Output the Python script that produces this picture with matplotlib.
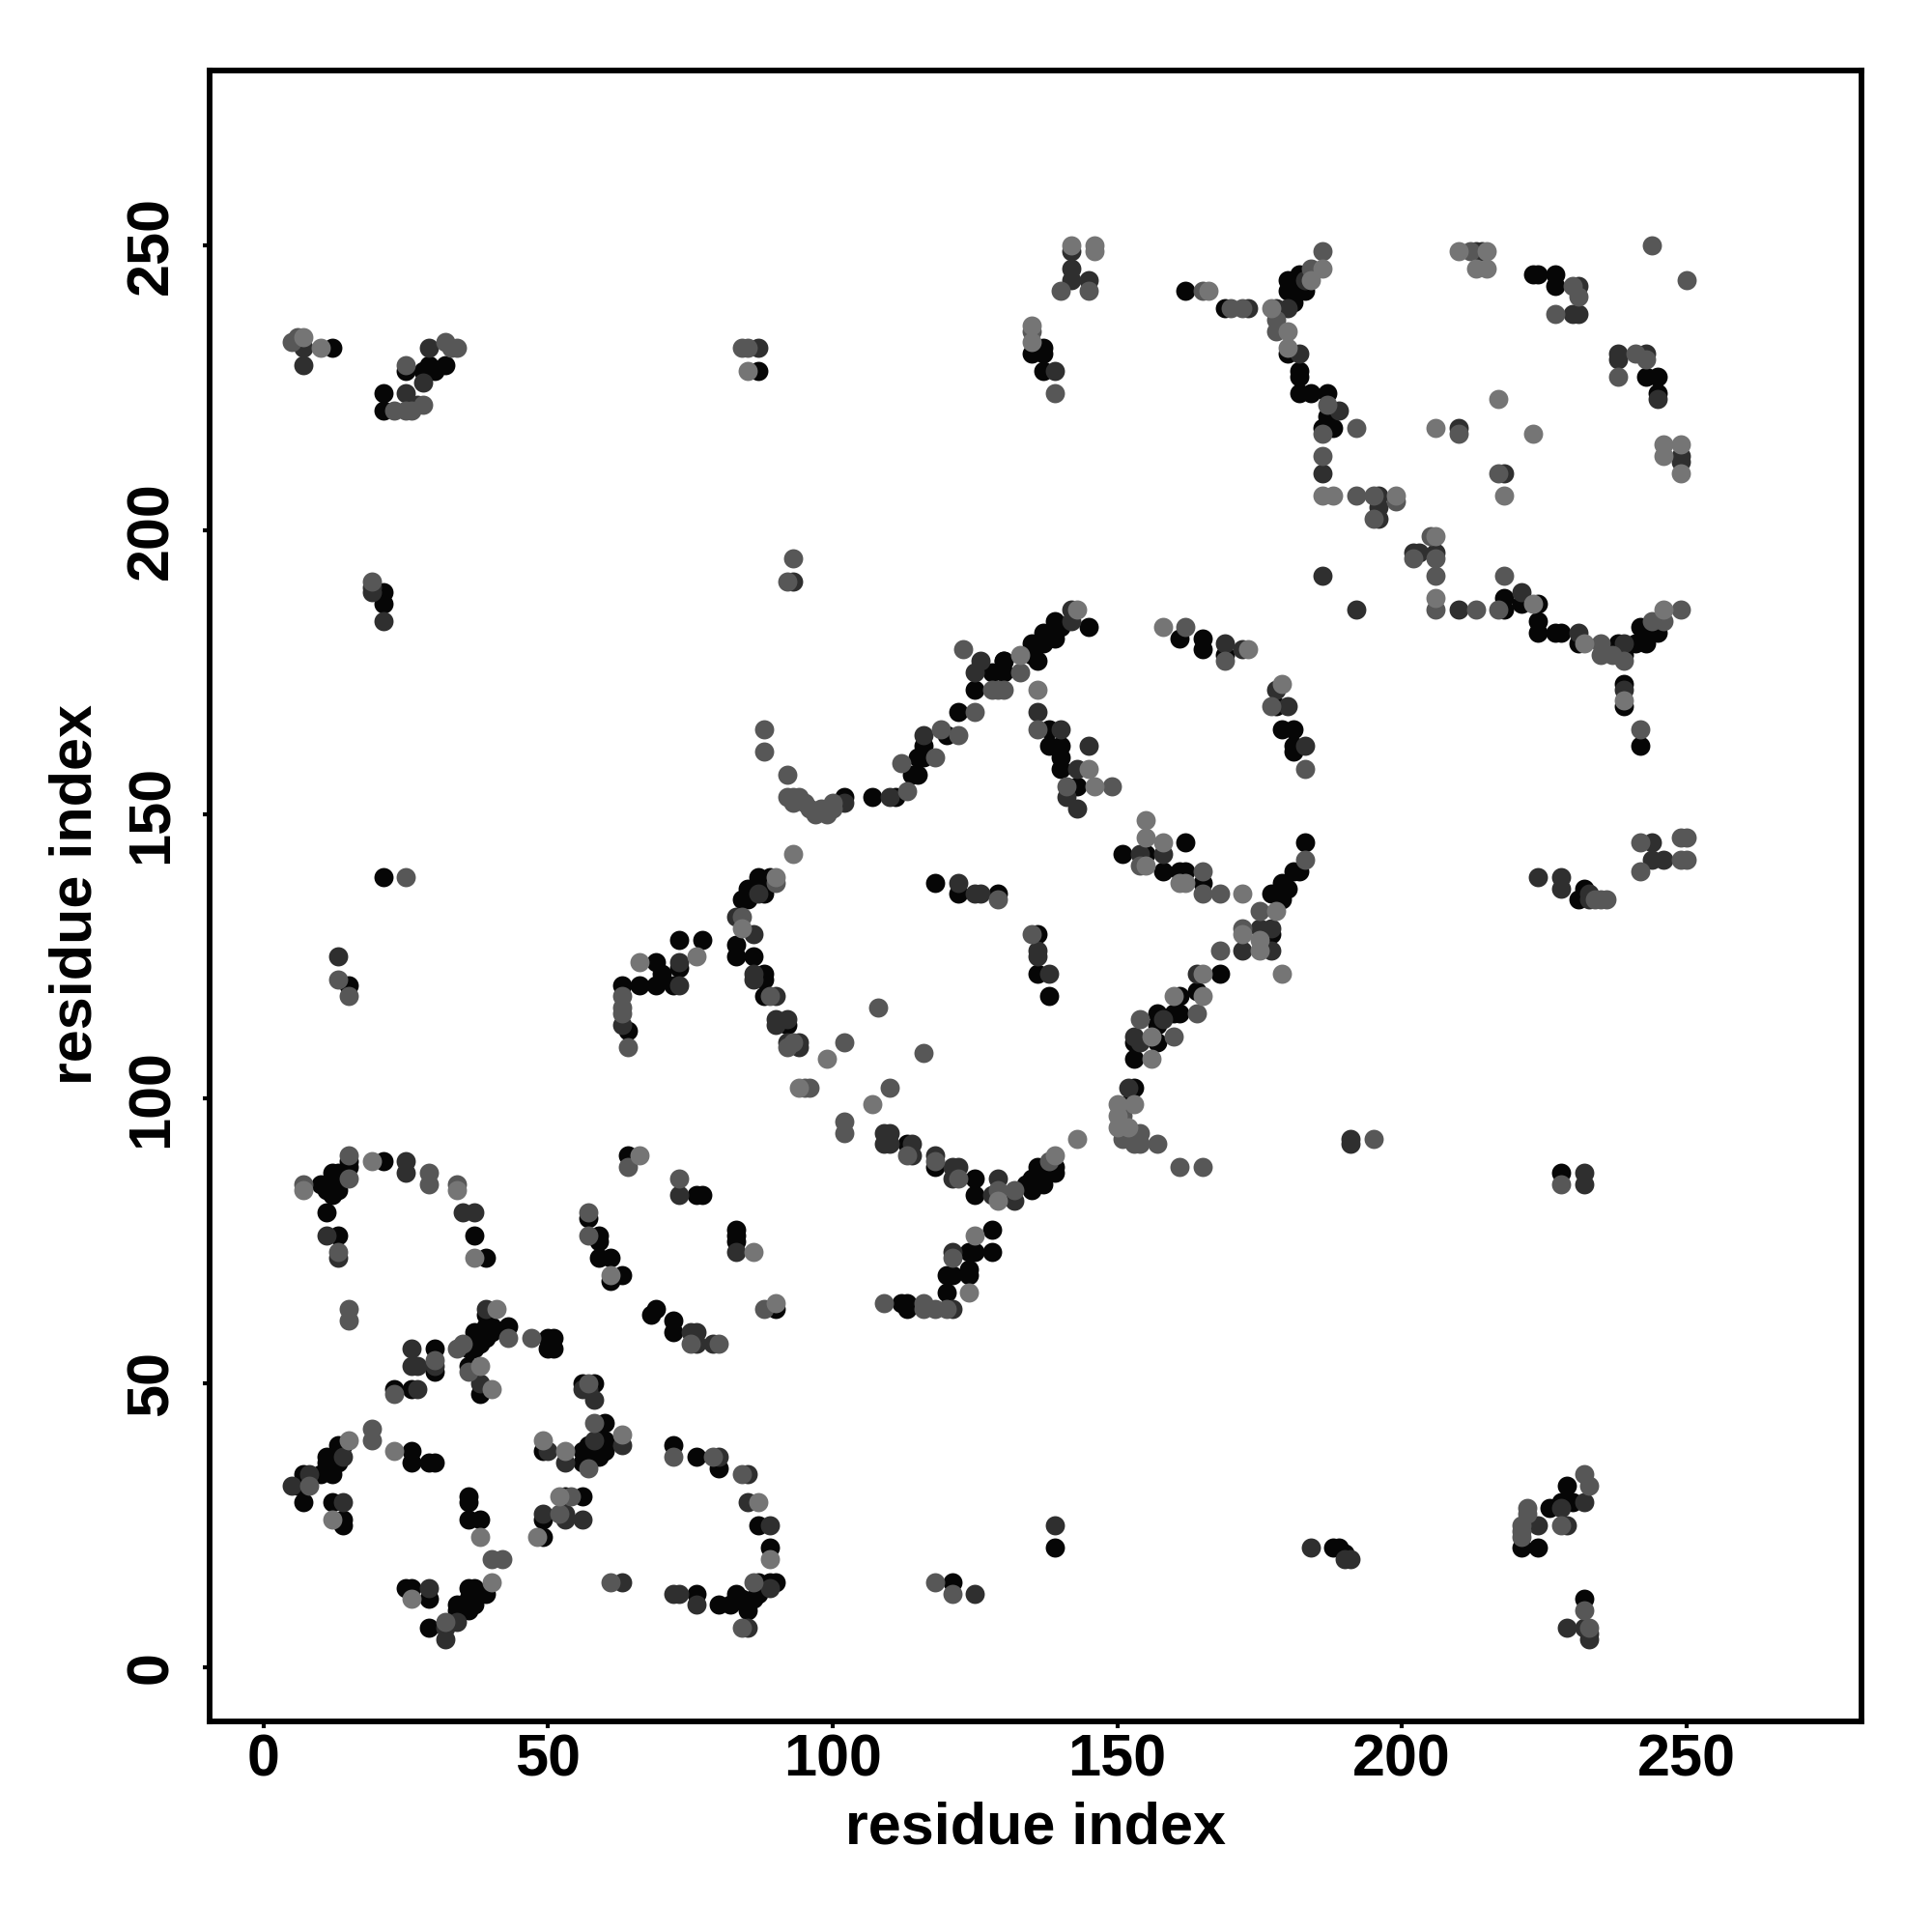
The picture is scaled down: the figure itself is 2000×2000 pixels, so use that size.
import matplotlib
matplotlib.use("Agg")
import matplotlib.pyplot as plt

x_ticks = [0, 50, 100, 150, 200, 250]
y_ticks = [0, 50, 100, 150, 200, 250]
axis_label = "residue index"

black_points = [
(25,14),(26,14),(29,12),(29,7),(34,11),(34,10),(36,14),(36,10),(37,11),(37,14),(39,13),(35,11),(36,12),(38,13),
(36,30),(36,29),(36,26),(38,26),(6,32),(7,29),(7,34),(10,34),(12,34),(11,37),(11,36),(13,39),(13,36),(14,39),(12,35),
(26,38),(26,36),(29,36),(30,36),(12,29),(14,26),(14,25),(11,80),(13,76),(37,76),(39,72),(76,83),(77,83),(83,77),(83,76),
(11,84),(10,85),(12,83),(13,84),(12,85),(12,87),(13,87),(14,87),(15,88),(15,89),(21,89),
(30,56),(30,52),(23,49),(26,49),(37,59),(38,57),(38,59),(39,58),(39,60),(39,62),(40,59),(40,60),(43,60),(36,57),(37,56),(36,53),(38,48),(36,56),
(50,58),(50,56),(51,58),(51,56),(57,79),(59,76),(59,75),(59,72),(61,72),(61,68),(63,69),(69,63),(68,62),(72,61),(72,59),(90,63),
(72,39),(76,37),(80,35),(87,25),(89,21),(90,15),(89,15),(87,15),(87,13),(83,13),(85,11),(80,11),(82,11),(85,10),(76,13),(84,12),(86,12),(88,14),
(49,38),(56,38),(58,37),(60,43),(60,40),(60,38),(59,37),(56,36),(57,36),(56,50),(58,50),(53,30),(56,30),(49,26),(49,23),(58,38),(59,40),(57,39),
(89,139),(87,139),(85,137),(88,136),(85,135),(84,135),(83,125),(83,127),(86,125),(88,122),(88,121),(88,118),(92,113),
(113,92),(118,88),(125,86),(125,83),(135,84),(135,86),(136,88),(137,85),(139,87),(139,88),(134,85),(137,87),
(151,143),(155,143),(158,140),(161,140),(162,140),(162,145),(165,138),(183,145),(182,140),(179,138),(181,140),(180,137),(177,136),(179,135),(177,129),
(168,122),(164,119),(161,118),(161,115),(160,115),(157,115),(157,113),(157,110),(153,110),(153,107),(153,102),(152,99),
(118,138),(122,136),(129,136),(136,129),(136,122),(138,118),(128,77),(128,73),(124,73),(125,73),(124,70),(124,69),(120,69),(121,69),(120,66),(113,64),(112,64),(113,63),
(83,75),(162,242),(169,239),(180,231),(182,228),(182,227),(182,224),(184,224),(187,224),(187,220),(187,218),(186,218),(188,218),
(180,242),(180,244),(183,242),(182,245),(181,242),(181,240),
(218,188),(218,186),(221,187),(224,187),(224,184),(224,182),(227,182),(228,182),(231,180),(238,180),(241,180),(243,180),(242,183),(245,182),(243,182),(239,178),
(239,173),(239,169),(242,162),(223,245),(224,245),(227,245),(227,243),(243,227),(245,227),(245,224),(137,232),(137,231),(137,228),(135,231),
(145,183),(139,184),(140,183),(137,182),(139,181),(135,180),(137,180),(135,178),(136,177),(130,177),(130,175),(138,165),(138,162),(140,162),(140,160),(140,158),(143,155),
(161,181),(165,181),(165,179),(169,178),(178,169),(179,165),(181,165),(181,162),(181,161),
(107,153),(111,153),(114,157),(115,160),(115,157),(116,162),(116,160),(120,164),(122,168),(125,172),(128,175),(130,177),(102,153),
(63,120),(64,112),(66,120),(69,120),(69,124),(70,122),(73,128),(73,123),(77,128),(72,120),
(21,224),(21,221),(25,228),(28,228),(29,229),(30,228),(32,229),
(12,232),(87,228),(21,189),(21,187),(21,139),(15,120),(232,137),(231,135),(228,87),(139,21),(121,15),(189,21),(188,21),(190,20),
(221,21),(224,21),(226,28),(228,29),(229,32),(230,29),(232,12),(64,90),
]

dark_points = [
(29,14),(32,5),(32,7),(34,8),(5,32),(8,34),(14,37),(14,29),(11,76),(13,72),(35,80),(37,80),(73,83),(83,73),(25,89),(25,87),
(26,56),(26,53),(27,53),(30,53),(27,49),(39,63),(38,50),(58,47),(57,49),(56,49),(75,59),(76,59),(76,57),(79,57),
(80,37),(85,34),(85,29),(89,25),(89,14),(76,11),(72,13),(73,13),(85,7),(63,15),(50,38),(53,36),(58,40),(63,39),
(53,27),(53,26),(56,26),(49,27),
(87,136),(83,132),(86,129),(86,122),(86,121),(90,118),(90,114),(92,114),(92,110),(94,110),(94,109),(90,113),
(109,94),(110,94),(109,92),(110,92),(114,92),(114,90),(118,90),(121,88),(122,88),(121,86),(129,86),(128,83),(132,82),
(154,143),(158,143),(175,130),(177,130),(172,126),(177,126),(164,122),(158,114),(153,111),(154,110),(152,102),
(122,138),(125,136),(126,136),(136,126),(136,125),(138,122),(121,73),(121,63),(143,151),
(142,249),(142,246),(142,244),(145,244),(173,239),(178,239),(180,239),(182,231),(189,221),(186,210),(196,206),(196,202),(196,204),(183,244),
(202,196),(203,196),(206,196),(210,186),(186,192),(192,186),(221,189),(231,182),(239,180),(239,172),(213,249),(214,249),
(231,243),(230,238),(231,238),(238,231),(238,230),(243,231),(245,223),(210,218),(218,210),(249,213),(249,212),(139,228),
(142,186),(142,184),(136,168),(140,165),(145,162),(143,158),(141,153),
(169,180),(172,179),(178,172),(180,169),(183,162),
(110,153),(116,164),(125,175),(126,177),(102,152),(63,113),(73,120),(73,124),
(25,224),(27,222),(28,226),(29,232),(7,232),(7,229),(87,232),(93,191),(19,190),(19,189),(21,184),(13,125),
(224,139),(228,139),(228,137),(233,136),(233,135),(244,145),(244,142),(246,142),(191,93),(191,92),(232,85),(232,87),
(139,25),(125,13),(184,21),(190,19),(191,19),(224,25),(228,28),(229,25),(232,29),(229,7),(232,7),(233,6),(233,5),
]

mid_points = [
(32,8),(40,19),(42,19),(7,85),(8,32),(19,42),(19,40),(13,73),(29,85),(34,85),(15,63),(15,61),(15,86),(15,90),(29,87),
(23,48),(30,54),(35,57),(43,58),(47,58),(34,56),(57,80),(57,76),(75,57),(80,57),(88,63),(84,34),(61,15),(86,15),(84,7),(72,37),(79,37),(73,86),
(57,35),(58,43),(57,50),(54,30),(52,27),(36,52),
(90,138),(84,132),(89,118),(93,110),(92,109),(95,102),(96,102),(102,110),(102,96),(102,94),(108,116),(110,102),(116,108),(113,90),(118,89),(122,86),(129,84),(132,84),(138,89),
(154,141),(165,140),(165,136),(168,136),(175,133),(172,130),(168,126),(164,115),(154,114),(160,111),(151,97),(151,93),(153,94),(154,94),(153,92),(154,92),(157,92),(161,88),(165,88),
(129,135),(135,129),(121,72),(120,63),(118,63),(116,64),(116,63),(109,64),(183,142),
(140,242),(145,242),(165,242),(170,239),(172,239),(178,237),(178,235),(186,213),(186,249),(184,246),(186,217),(192,218),(192,206),(195,206),(195,202),(187,222),
(205,199),(202,195),(206,195),(206,192),(206,186),(213,186),(218,192),(217,186),(235,180),(235,178),(237,178),(239,177),(244,184),(246,184),(249,186),(242,165),
(212,249),(230,243),(231,241),(227,238),(241,231),(243,230),(238,227),(210,217),(217,210),(244,250),(250,244),
(135,235),(139,224),(136,165),(133,175),(130,172),(141,155),(149,155),
(162,183),(169,177),(177,169),(183,158),(199,205),
(92,157),(92,153),(93,153),(93,152),(94,153),(95,152),(96,151),(97,150),(98,151),(99,150),(100,152),(100,151),(88,165),(88,161),
(112,159),(113,154),(118,160),(119,165),(122,164),(123,179),(128,172),(129,172),(125,168),
(63,118),(63,116),(63,115),(64,109),(23,221),(25,221),(25,229),(26,221),(28,222),(32,233),(33,232),(34,232),(5,233),(6,234),
(84,232),(85,232),(19,191),(93,195),(92,191),(25,139),(13,121),(15,118),(64,88),
(234,135),(235,135),(236,135),(242,145),(249,146),(250,146),(242,140),(249,142),(250,142),(195,93),(228,85),
(118,15),(121,13),(221,25),(221,24),(221,23),(222,27),(222,28),(228,25),(232,34),(233,32),(232,10),(233,7),
]

light_points = [
(26,12),(38,23),(40,15),(7,84),(15,40),(12,26),(19,89),(23,38),(34,84),(37,72),(86,73),
(38,53),(41,63),(40,49),
(61,69),(90,64),(87,29),(89,19),(49,40),(53,38),(63,41),(52,30),(48,23),
(93,143),(90,139),(84,130),(94,102),(99,107),(107,99),(139,90),(129,82),(143,93),
(155,149),(155,146),(155,141),(158,145),(161,138),(162,138),(172,136),(178,133),(172,129),(175,128),(175,126),(179,122),(165,122),(165,118),(160,118),(156,111),(156,107),
(153,99),(150,99),(150,97),(150,95),(152,95),(125,76),(124,66),
(142,250),(146,250),(146,249),(166,242),(177,239),(180,235),(180,232),(184,244),(186,246),(186,206),(188,206),(199,206),
(206,199),(206,188),(223,187),(232,180),(246,186),(239,170),(210,249),(215,249),(213,246),(215,246),(217,223),(206,218),(223,217),(218,206),
(246,215),(246,213),(249,215),(249,210),(135,236),(135,233),(133,178),(136,172),(143,186),(146,155),(145,158),
(158,183),(173,179),(179,173),(7,234),(85,228),(10,232),(66,124),(76,125),(66,90),
]

fig = plt.figure(figsize=(20, 20), dpi=100)
ax = fig.add_axes([217/2000, 218/2000, 1710/2000, 1709/2000])
levels = [(black_points, "#060606"), (dark_points, "#2f2f2f"), (mid_points, "#575757"), (light_points, "#757575")]
for pts, col in levels:
    xs, ys = zip(*pts)
    ax.scatter(xs, ys, s=205, c=col, linewidths=0, zorder=3)

ax.set_xlim(-9.5, 280.8)
ax.set_ylim(-9.5, 280.8)
ax.set_xticks(x_ticks)
ax.set_yticks(y_ticks)
font = dict(family="Liberation Sans", fontweight="bold", fontsize=44)
ax.set_xticklabels([str(v) for v in x_ticks], **font)
ax.set_yticklabels([str(v) for v in y_ticks], rotation=90, va="center", **font)
ax.tick_params(axis="x", length=5, width=3, pad=4)
ax.tick_params(axis="y", length=5, width=3, pad=17)
for s in ax.spines.values():
    s.set_linewidth(4.2)
fig.text(1072/2000, 1-1893/2000, axis_label, ha="center", va="center", **font)
fig.text(79/2000, 1-926/2000, axis_label, ha="center", va="center", rotation=90, **font)
fig.savefig("out.png", dpi=100)
